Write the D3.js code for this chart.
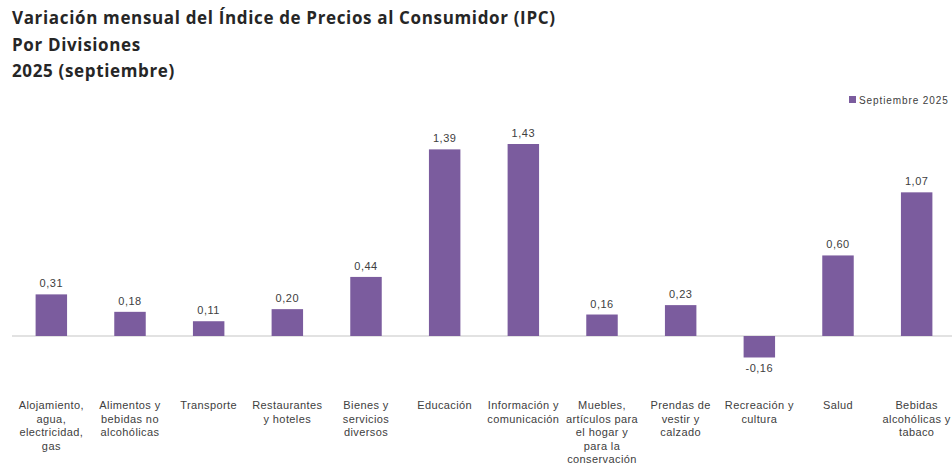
<!DOCTYPE html>
<head>
  <meta charset="utf-8">
  <script src="https://d3js.org/d3.v7.min.js"></script>
  <style>
    body { margin:0; background:#fff; }
    svg { display:block; }
    .title { font-family:"Open Sans", sans-serif; font-weight:bold; font-size:17px; fill:#262626; letter-spacing:0.65px; }
    .cat { font-family:"Liberation Sans", Arial, sans-serif; font-size:11px; fill:#404040; letter-spacing:0.4px; }
    .val { font-family:"Liberation Sans", Arial, sans-serif; font-size:11px; fill:#404040; letter-spacing:0.5px; }
    .leg { font-family:"Liberation Sans", Arial, sans-serif; font-size:10px; fill:#404040; letter-spacing:0.9px; }
  </style>
</head>
<body>
<div id="chart"></div>
<script>
// categorias (saltos de linea como en el original)
var categories = [
  "Alojamiento,\nagua,\nelectricidad,\ngas",
  "Alimentos y\nbebidas no\nalcohólicas",
  "Transporte",
  "Restaurantes\ny hoteles",
  "Bienes y\nservicios\ndiversos",
  "Educación",
  "Información y\ncomunicación",
  "Muebles,\nartículos para\nel hogar y\npara la\nconservación",
  "Prendas de\nvestir y\ncalzado",
  "Recreación y\ncultura",
  "Salud",
  "Bebidas\nalcohólicas y\ntabaco"
];
var values = [0.31, 0.18, 0.11, 0.20, 0.44, 1.39, 1.43, 0.16, 0.23, -0.16, 0.60, 1.07];
var seriesName = "Septiembre 2025";
var titleLines = [
  "Variación mensual del Índice de Precios al Consumidor (IPC)",
  "Por Divisiones",
  "2025 (septiembre)"
];

var width = 952, height = 466;
var barColor = "#7b5c9e";

var svg = d3.select("#chart").append("svg")
  .attr("width", width)
  .attr("height", height);

svg.selectAll("text.title")
  .data(titleLines)
  .enter().append("text")
  .attr("class", "title")
  .attr("x", 12)
  .attr("y", function(d, i) { return 24 + i * 26.5; })
  .text(function(d) { return d; });

var x = d3.scaleBand()
  .domain(d3.range(categories.length))
  .range([12, 956])
  .paddingInner(0.6)
  .paddingOuter(0.3);

var y = d3.scaleLinear()
  .domain([0, 1.43])
  .range([336, 144]);

// linea del cero
svg.append("line")
  .attr("x1", 12).attr("x2", 952)
  .attr("y1", y(0)).attr("y2", y(0))
  .style("stroke", "#d9d9d9")
  .style("stroke-width", 1.5);

svg.selectAll("rect.bar")
  .data(values)
  .enter().append("rect")
  .attr("class", "bar")
  .attr("x", function(d, i) { return x(i); })
  .attr("width", x.bandwidth())
  .attr("y", function(d) { return y(Math.max(0, d)); })
  .attr("height", function(d) { return Math.abs(y(d) - y(0)); })
  .attr("fill", barColor);

var fmt = function(d) { return d3.format(".2f")(d).replace(".", ",").replace("−", "-"); };

svg.selectAll("text.val")
  .data(values)
  .enter().append("text")
  .attr("class", "val")
  .attr("text-anchor", "middle")
  .attr("x", function(d, i) { return x(i) + x.bandwidth() / 2; })
  .attr("y", function(d) { return d >= 0 ? y(d) - 7 : y(d) + 15; })
  .text(fmt);

var cat = svg.selectAll("text.cat")
  .data(categories)
  .enter().append("text")
  .attr("class", "cat")
  .attr("text-anchor", "middle")
  .attr("x", function(d, i) { return x(i) + x.bandwidth() / 2; })
  .attr("y", 409);

cat.selectAll("tspan")
  .data(function(d, i) { return d.split("\n").map(function(s) { return { s: s, i: i }; }); })
  .enter().append("tspan")
  .attr("x", function(d) { return x(d.i) + x.bandwidth() / 2; })
  .attr("dy", function(d, j) { return j === 0 ? 0 : 13.6; })
  .text(function(d) { return d.s; });

// leyenda
svg.append("rect")
  .attr("x", 849).attr("y", 96)
  .attr("width", 7).attr("height", 7)
  .attr("fill", barColor);
svg.append("text")
  .attr("class", "leg")
  .attr("x", 859).attr("y", 103.5)
  .text(seriesName);
</script>
</body>
